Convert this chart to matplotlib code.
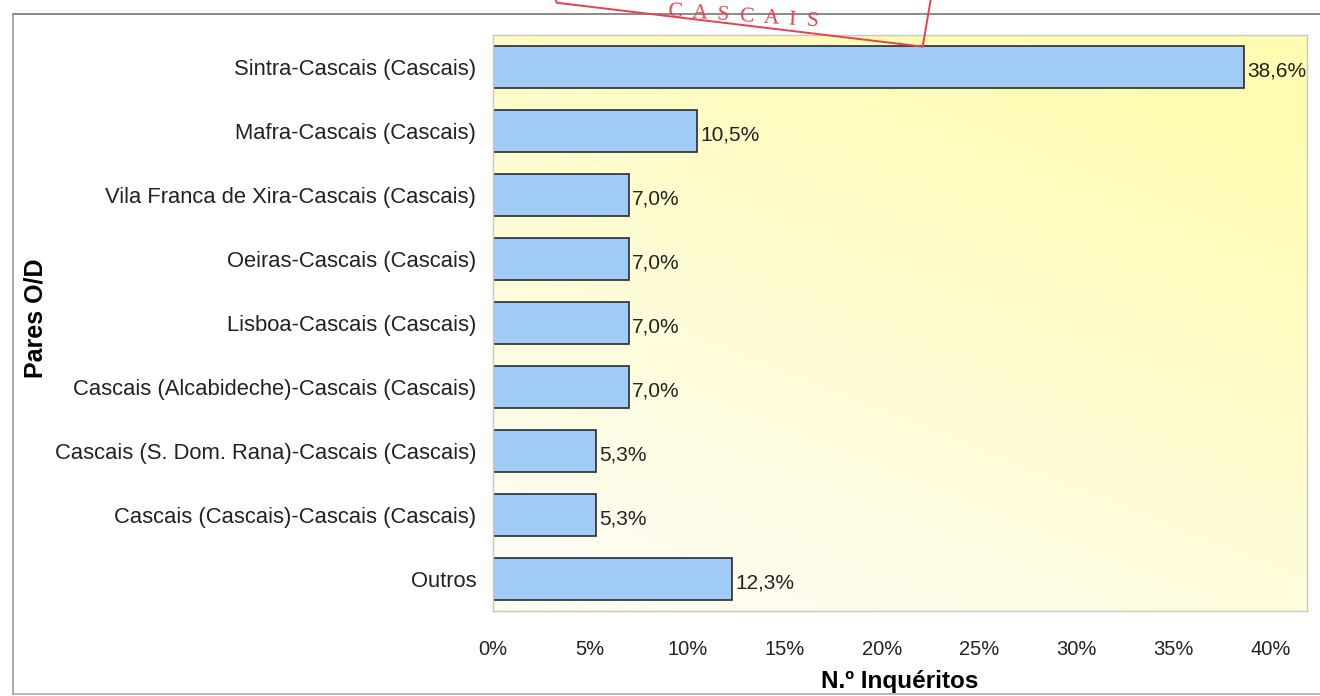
import matplotlib.pyplot as plt
import numpy as np
from matplotlib.colors import LinearSegmentedColormap

# data
categories = ['Sintra-Cascais (Cascais)', 'Mafra-Cascais (Cascais)',
              'Vila Franca de Xira-Cascais (Cascais)', 'Oeiras-Cascais (Cascais)',
              'Lisboa-Cascais (Cascais)', 'Cascais (Alcabideche)-Cascais (Cascais)',
              'Cascais (S. Dom. Rana)-Cascais (Cascais)', 'Cascais (Cascais)-Cascais (Cascais)',
              'Outros']
values = [38.6, 10.5, 7.0, 7.0, 7.0, 7.0, 5.3, 5.3, 12.3]
value_labels = ['38,6%', '10,5%', '7,0%', '7,0%', '7,0%', '7,0%', '5,3%', '5,3%', '12,3%']
xticks = [0, 5, 10, 15, 20, 25, 30, 35, 40]
xtick_labels = ['0%', '5%', '10%', '15%', '20%', '25%', '30%', '35%', '40%']

plt.rcParams['font.family'] = ['Liberation Sans', 'DejaVu Sans']

fig = plt.figure(figsize=(13.2, 6.96), dpi=100)
ax = fig.add_axes([0.3735, 0.1221, 0.6167, 0.8276])

# pale yellow gradient background (yellow at top/right, near white at bottom-left)
gx, gy = np.meshgrid(np.linspace(0, 1, 200), np.linspace(0, 1, 200))
t = np.clip(0.45 * gx + 0.8 * gy - 0.1, 0, 1)
cmap = LinearSegmentedColormap.from_list('bg', ['#fdfcf2', '#fffdd2', '#fffcb2'])
ax.imshow(t, cmap=cmap, origin='lower', extent=[0, 1, 0, 1], transform=ax.transAxes,
          aspect='auto', zorder=0, vmin=0, vmax=1)

y = np.arange(len(categories))
ax.barh(y, values, height=0.67, color='#a0cbf4', edgecolor='#2b2b2b', linewidth=1.2, zorder=2)
for yi, v, lab in zip(y, values, value_labels):
    ax.text(v + 0.15, yi + 0.07, lab, va='center', ha='left', fontsize=15, color='#222222', zorder=3)

ax.set_xlim(0, 41.85)
ax.set_ylim(8.5, -0.5)
ax.set_yticks(y)
ax.set_yticklabels(categories, fontsize=15.8, color='#222222')
ax.set_xticks(xticks)
ax.set_xticklabels(xtick_labels, fontsize=14.5, color='#222222')
ax.tick_params(axis='y', length=0, pad=12)
ax.tick_params(axis='x', length=0, pad=21)
for s in ax.spines.values():
    s.set_color('#c8c8c0')
    s.set_linewidth(1)

ax.set_xlabel('N.º Inquéritos', fontsize=17.5, fontweight='bold', labelpad=8)
fig.text(0.027, 0.543, 'Pares O/D', rotation=90, fontsize=18, fontweight='bold',
         ha='center', va='center')

# scanned page frame
fig.add_artist(plt.Line2D([0.0098, 1.0], [0.98, 0.98], color='#777777', lw=1.2))
fig.add_artist(plt.Line2D([0.0098, 0.0098], [0.003, 0.98], color='#999999', lw=1.2))
fig.add_artist(plt.Line2D([0.0098, 1.0], [0.003, 0.003], color='#aaaaaa', lw=1.2))

# red stamp fragment at the top
fig.add_artist(plt.Line2D([0.421, 0.422, 0.699, 0.705], [1.0, 0.996, 0.933, 1.0],
                          color='#e8404f', lw=1.4))
fig.text(0.563, 0.9756, 'C  A  S  C  A  I  S', color='#e8404f', fontsize=15.5, rotation=-4,
         ha='center', va='center', family='Liberation Serif')

fig.savefig('out.png', dpi=100)
